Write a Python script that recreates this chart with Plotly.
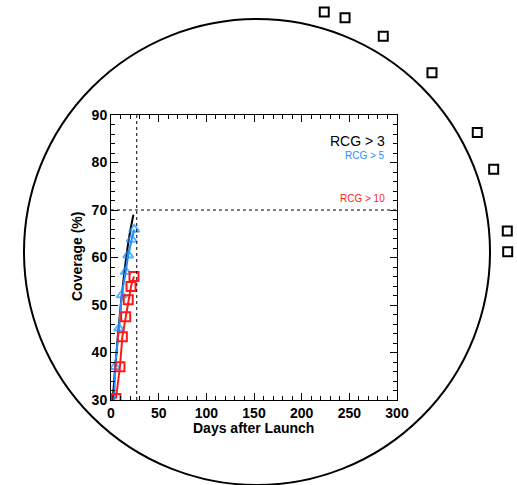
import plotly.graph_objects as go

# ---- data ----
black_days = [1.8, 4.5, 7.5, 10.5, 13.5, 16.5, 19.5, 23.5]
black_cov = [30.0, 37.0, 44.0, 50.5, 56.0, 60.8, 64.8, 69.0]

blue_days = [3.5, 4.2, 8.4, 11.2, 15.4, 18.1, 21.7, 24.4]
blue_cov = [30.0, 37.0, 45.1, 52.1, 57.0, 60.5, 63.8, 65.9]

red_days = [5.2, 9.4, 11.9, 15.4, 18.1, 21.0, 24.1]
red_cov = [30.3, 37.0, 43.3, 47.5, 51.1, 53.9, 56.0]

outer_days = [223.7, 245.5, 285.6, 336.7, 384.2, 401.4, 415.7, 416.1]
outer_cov = [111.7, 110.5, 106.6, 98.9, 86.3, 78.6, 65.6, 61.2]

ref_day = 27
ref_cov = 70

x_range = [0, 300]
y_range = [30, 90]
x_ticks = [0, 50, 100, 150, 200, 250, 300]
y_ticks = [30, 40, 50, 60, 70, 80, 90]

labels = ["RCG > 3", "RCG > 5", "RCG > 10"]
label_colors = ["black", "#1E90FF", "#FF1A1A"]

# ---- layout geometry (pixels) ----
W, H = 517, 485
PL, PR, PT, PB = 111, 397, 115, 400  # plot box edges

xd = [PL / W, PR / W]
yd = [(H - PB) / H, (H - PT) / H]
# full-figure second axis pair with identical scale
xs = (x_range[1] - x_range[0]) / (PR - PL)
ys = (y_range[1] - y_range[0]) / (PB - PT)
x2_range = [x_range[0] - PL * xs, x_range[0] + (W - PL) * xs]
y2_range = [y_range[0] - (H - PB) * ys, y_range[0] + PB * ys]

fig = go.Figure()

fig.add_trace(go.Scatter(x=black_days, y=black_cov, mode="lines",
                         line=dict(color="black", width=2, shape="spline"),
                         showlegend=False))
fig.add_trace(go.Scatter(x=blue_days, y=blue_cov, mode="lines+markers",
                         line=dict(color=label_colors[1], width=2),
                         marker=dict(symbol="triangle-up-open",
                                     size=[0] + [9] * (len(blue_days) - 1),
                                     color=label_colors[1], line=dict(width=2)),
                         showlegend=False))
fig.add_trace(go.Scatter(x=red_days, y=red_cov, mode="lines+markers",
                         line=dict(color=label_colors[2], width=2),
                         marker=dict(symbol="square-open", size=9,
                                     color=label_colors[2], line=dict(width=2)),
                         showlegend=False))
fig.add_trace(go.Scatter(x=outer_days, y=outer_cov, mode="markers",
                         xaxis="x2", yaxis="y2",
                         marker=dict(symbol="square-open", size=9, color="black",
                                     line=dict(width=2)),
                         showlegend=False))

# reference dotted lines
fig.add_shape(type="line", xref="x", yref="y", x0=ref_day, x1=ref_day,
              y0=y_range[0], y1=y_range[1],
              line=dict(color="black", width=1, dash="dot"))
fig.add_shape(type="line", xref="x", yref="y", x0=x_range[0], x1=x_range[1],
              y0=ref_cov, y1=ref_cov,
              line=dict(color="black", width=1, dash="dot"))

# big circle (pixel box 24..490 x 19..485)
fig.add_shape(type="circle", xref="paper", yref="paper",
              x0=24 / W, x1=490 / W, y0=(H - 485) / H, y1=(H - 19) / H,
              line=dict(color="black", width=2), layer="below")

ann_py = [141, 155, 198]
ann_size = [14, 10, 10]
for t, c, py, s in zip(labels, label_colors, ann_py, ann_size):
    fig.add_annotation(text=t, x=387 / W, y=(H - py) / H, xref="paper", yref="paper",
                       xanchor="right", yanchor="middle", showarrow=False,
                       font=dict(family="Liberation Sans", size=s, color=c))

title_font = dict(family="Liberation Sans", size=14, color="black", weight="bold")
fig.add_annotation(text="Days after Launch", x=254 / W, y=(H - 428) / H,
                   xref="paper", yref="paper", xanchor="center", yanchor="middle",
                   showarrow=False, font=title_font)
fig.add_annotation(text="Coverage (%)", x=77 / W, y=(H - 257) / H, textangle=-90,
                   xref="paper", yref="paper", xanchor="center", yanchor="middle",
                   showarrow=False, font=title_font)

axis_common = dict(showgrid=False, zeroline=False, showline=True, linecolor="black",
                   linewidth=1, mirror="allticks", ticks="inside", ticklen=7,
                   tickcolor="black", tickwidth=1, automargin=False,
                   tickfont=dict(family="Liberation Sans", size=14, color="black",
                                 weight="bold"))

fig.update_layout(
    xaxis=dict(domain=xd, range=x_range, tickmode="array", tickvals=x_ticks,
               minor=dict(dtick=10, ticks="inside", ticklen=4, tickcolor="black"),
               anchor="y", **axis_common),
    yaxis=dict(domain=yd, range=y_range, tickmode="array", tickvals=y_ticks,
               minor=dict(dtick=2, ticks="inside", ticklen=4, tickcolor="black"),
               anchor="x", **axis_common),
    xaxis2=dict(domain=[0, 1], range=x2_range, visible=False, anchor="y2",
                automargin=False),
    yaxis2=dict(domain=[0, 1], range=y2_range, visible=False, anchor="x2",
                automargin=False),
    width=W, height=H, autosize=False,
    margin=dict(l=0, r=0, t=0, b=0, pad=0),
    plot_bgcolor="rgba(0,0,0,0)", paper_bgcolor="white",
    showlegend=False,
)

fig.write_html("out.html")
